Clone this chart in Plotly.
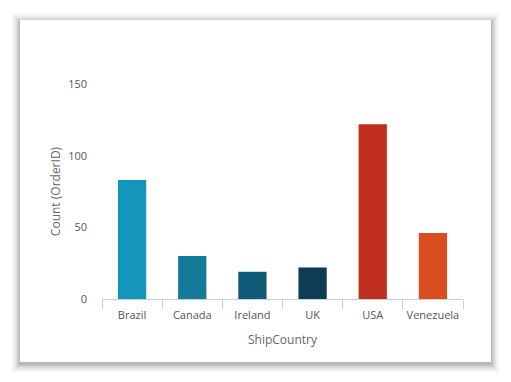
import plotly.graph_objects as go

countries = ["Brazil", "Canada", "Ireland", "UK", "USA", "Venezuela"]
order_counts = [83, 30, 19, 22, 122, 46]
bar_colors = ["#1496BB", "#137A98", "#105B78", "#0D3C55", "#C02E1D", "#D94E1F"]
y_ticks = [0, 50, 100, 150]

W, H = 511, 382
L, R, T, B = 102, 48, 84, 83
pw, ph = W - L - R, H - T - B

def px(x):
    return (x - L) / pw

def py(y):
    return (H - B - y) / ph

fig = go.Figure(go.Bar(
    x=countries, y=order_counts, marker_color=bar_colors, width=0.47,
    marker_line_width=0,
))

shapes = []
# soft shadow layers
for i, a in enumerate([0.012, 0.016, 0.02, 0.025, 0.03, 0.035, 0.045, 0.055, 0.07]):
    g = 9 - i
    shapes.append(dict(type="rect", xref="paper", yref="paper", layer="below",
                       x0=px(20 - g), x1=px(491 + g), y0=py(20 - g + 2), y1=py(362 + g + 2),
                       fillcolor=f"rgba(0,0,0,{a})", line_width=0))
shapes.append(dict(type="rect", xref="paper", yref="paper", layer="below",
                   x0=px(20), x1=px(491), y0=py(20), y1=py(362),
                   fillcolor="white", line_width=0))

fig.update_layout(
    width=W, height=H,
    margin=dict(l=L, r=R, t=T, b=B, autoexpand=False),
    paper_bgcolor="white", plot_bgcolor="rgba(0,0,0,0)",
    font=dict(family="Open Sans", size=11, color="#676767"),
    shapes=shapes,
    showlegend=False,
)
fig.update_xaxes(
    showline=True, linecolor="#C5D0DD", linewidth=1,
    ticks="outside", tickson="boundaries", ticklen=9, tickcolor="#C5D0DD",
    showgrid=False, zeroline=False, tickangle=0, automargin=False,
    ticklabelstandoff=6,
    title=dict(text="ShipCountry", font=dict(size=12, color="#676767"), standoff=14),
    tickfont=dict(size=11, color="#555555"),
)
fig.update_yaxes(
    range=[0, 150], tickvals=y_ticks, showgrid=False, zeroline=False, showline=False,
    ticks="", ticklabelstandoff=14, automargin=False,
    title=dict(text="Count (OrderID)", font=dict(size=12, color="#676767"), standoff=4),
    tickfont=dict(size=11, color="#555555"),
)
fig.write_html("out.html", config={"displayModeBar": False},
               post_script="document.body.style.margin='0';")
